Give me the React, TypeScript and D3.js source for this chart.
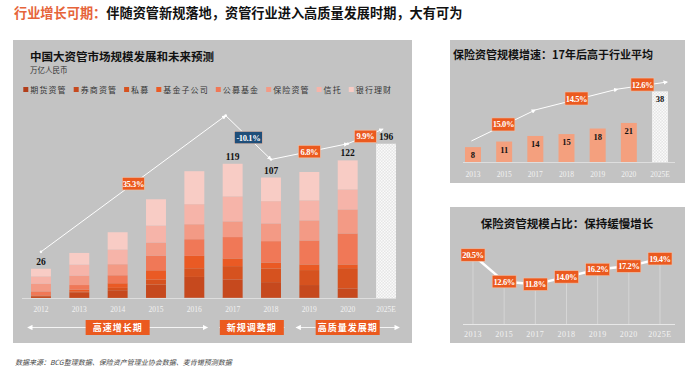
import React from 'react';
import * as d3 from 'd3';

// 中国大资管市场规模（万亿人民币）
const years = ['2012', '2013', '2014', '2015', '2016', '2017', '2018', '2019', '2020', '2025E'];
const seriesNames = ['期货资管', '券商资管', '私募', '基金子公司', '公募基金', '保险资管', '信托', '银行理财'];
const seriesColors = ['#B23E1A', '#C6491E', '#D6521F', '#EA5A24', '#F07857', '#F39A85', '#F6B4A9', '#F8CCC5'];
const futures = [0.05, 0.1, 0.1, 0.1, 0.3, 0.2, 0.2, 0.2, 0.2];
const brokers = [1.5, 5, 6.8, 11.8, 18.4, 16.3, 13.9, 11.3, 8.3];
const privateFunds = [0.6, 0.5, 2.1, 4.4, 7.7, 11.8, 12.1, 13.3, 18];
const fundSubs = [0.1, 1.8, 4.1, 8.3, 11, 6.8, 5.3, 5, 3.3];
const mutualFunds = [3.6, 4.1, 7.1, 13, 14.8, 19, 19, 21.3, 27.5];
const insurance = [6.8, 8.3, 9.8, 11.6, 13.3, 13.9, 15.7, 17.8, 21.3];
const trusts = [6.5, 9.8, 13, 15.1, 17.8, 22.2, 19.8, 17.8, 17.8];
const bankWm = [6.8, 10.4, 15.4, 23.4, 29.3, 29, 21, 25.2, 25.8];
const forecastTotal = 196;
const forecastBarCap = 137; // 2025E 柱被截断显示
const labeledYears = ['2012', '2017', '2018', '2020'];

// 增速折线（年份, 柱内位置, 数值）
const trendPoints: [string, number, number][] = [
  ['2012', 0.5, 41], ['2017', 0.15, 162], ['2018', 0.5, 123], ['2020', 0.5, 137], ['2025E', 0.35, 150],
];
const trendRates = ['35.3%', '-10.1%', '6.8%', '9.9%'];
const periods = [
  { label: '高速增长期', from: '2012', to: '2016' },
  { label: '新规调整期', from: '2017', to: '2018' },
  { label: '高质量发展期', from: '2019', to: '2025E' },
];

// 保险资管
const insYears = ['2013', '2015', '2017', '2018', '2019', '2020', '2025E'];
const insAum = [8, 11, 14, 15, 18, 21, 38];
const insTrend: [string, number, number][] = [
  ['2013', 0.4, 11.3], ['2017', 0.5, 28], ['2020', -0.2, 39.2], ['2025E', 0.95, 43],
];
const insRates = ['15.0%', '14.5%', '12.6%'];
const insShare = [20.5, 12.6, 11.8, 14.0, 16.2, 17.2, 19.4];

const ORANGE = '#EB5A1F';
const NAVY = '#1F4E79';
const PANEL = '#C3C3C3';
const CJK = '"Noto Sans CJK SC", sans-serif';
const SERIF = '"Liberation Serif", "DejaVu Serif", serif';

function RateBox({ x, y, text, fill = ORANGE, w = 22, h = 12 }: any) {
  return (
    <g>
      <rect x={x - w / 2} y={y - h / 2} width={w} height={h} fill={fill} stroke="#f0c0a8" strokeWidth={0.6} />
      <text x={x} y={y + 3} textAnchor="middle" fill="#fff" fontFamily={SERIF} fontWeight="bold" fontSize={8.5} letterSpacing={-0.4}>{text}</text>
    </g>
  );
}

export default function App() {
  // ---- main chart ----
  const x = d3.scaleBand().domain(years).range([21.8, 405.2]).paddingInner(0.48).paddingOuter(0.24);
  const y = d3.scaleLinear().domain([0, 150]).range([298, 129.1]);
  const table = years.slice(0, 9).map((yr, i) => ({
    year: yr,
    期货资管: futures[i], 券商资管: brokers[i], 私募: privateFunds[i], 基金子公司: fundSubs[i],
    公募基金: mutualFunds[i], 保险资管: insurance[i], 信托: trusts[i], 银行理财: bankWm[i],
  }));
  const stacked = d3.stack<any>().keys(seriesNames)(table);
  const totals = table.map(r => seriesNames.reduce((s, k) => s + (r as any)[k], 0));
  const tp = trendPoints.map(([yr, f, v]) => [x(yr)! + f * x.bandwidth(), y(v)] as [number, number]);
  const line = d3.line();

  // ---- insurance AUM ----
  const x2 = d3.scaleBand().domain(insYears).range([457.4, 675.6]).paddingInner(0.487).paddingOuter(0.2435);
  const y2 = d3.scaleLinear().domain([0, 40]).range([162, 87.6]);
  const tp2 = insTrend.map(([yr, f, v]) => [x2(yr)! + f * x2.bandwidth(), y2(v)] as [number, number]);

  // ---- insurance share ----
  const y3 = d3.scaleLinear().domain([0, 20.5]).range([324, 255]);
  const cx3 = (yr: string) => x2(yr)! + x2.bandwidth() / 2;
  const sharePts = insYears.map((yr, i) => [cx3(yr), y3(insShare[i])] as [number, number]);

  let lx = 23.3;
  const legendItems = seriesNames.map((n, i) => {
    const item = { n, c: seriesColors[i], x: lx };
    lx += 7 + n.length * 9.1 + 7;
    return item;
  });

  return (
    <svg width={700} height={371} style={{ position: 'absolute', left: 0, top: 0, background: '#fff' }}>
      <defs>
        <pattern id="hatch" width={3} height={3} patternUnits="userSpaceOnUse">
          <rect width={3} height={3} fill="#e6e6e6" />
          <rect width={1.5} height={1.5} fill="#fafafa" />
          <rect x={1.5} y={1.5} width={1.5} height={1.5} fill="#fafafa" />
        </pattern>
        <marker id="arr" viewBox="0 0 6 6" refX={5} refY={3} markerWidth={4.5} markerHeight={4.5} orient="auto-start-reverse">
          <path d="M0,0 L6,3 L0,6 z" fill="#fff" />
        </marker>
      </defs>

      {/* headline */}
      <text x={14} y={18} fontFamily={CJK} fontWeight="bold" fontSize={13.2}>
        <tspan fill="#E6643A">行业增长可期：</tspan>
        <tspan fill="#111">伴随资管新规落地，资管行业进入高质量发展时期，大有可为</tspan>
      </text>

      {/* ===== main panel ===== */}
      <rect x={13} y={40} width={399} height={303} fill={PANEL} />
      <text x={30} y={61} fontFamily={CJK} fontWeight="bold" fontSize={11.5} fill="#111">中国大资管市场规模发展和未来预测</text>
      <text x={30} y={73} fontFamily={CJK} fontSize={7.5} fill="#333">万亿人民币</text>
      {legendItems.map(it => (
        <g key={it.n}>
          <rect x={it.x} y={87} width={5} height={5} fill={it.c} />
          <text x={it.x + 7} y={92.5} fontFamily={CJK} fontSize={8} letterSpacing={1.1} fill="#333">{it.n}</text>
        </g>
      ))}

      {stacked.map((s, si) => (
        <g key={s.key} fill={seriesColors[si]}>
          {s.map((d, i) => (
            <rect key={i} x={x(years[i])} y={y(d[1])} width={x.bandwidth()} height={y(d[0]) - y(d[1])} />
          ))}
        </g>
      ))}
      <rect x={x('2025E')} y={y(forecastBarCap)} width={x.bandwidth()} height={y(0) - y(forecastBarCap)} fill="url(#hatch)" />
      {labeledYears.map(yr => {
        const i = years.indexOf(yr);
        return (
          <text key={yr} x={x(yr)! + x.bandwidth() / 2} y={y(totals[i]) - 4} textAnchor="middle" fontFamily={SERIF} fontWeight="bold" fontSize={9.5} fill="#111">
            {Math.round(totals[i])}
          </text>
        );
      })}
      <text x={x('2025E')! + x.bandwidth() / 2} y={y(forecastBarCap) - 4} textAnchor="middle" fontFamily={SERIF} fontWeight="bold" fontSize={9.5} fill="#111">{forecastTotal}</text>

      <line x1={22} x2={396} y1={298.5} y2={298.5} stroke="#e4e4e4" strokeWidth={0.8} />
      {years.map(yr => (
        <text key={yr} x={x(yr)! + x.bandwidth() / 2} y={312} textAnchor="middle" fontFamily={SERIF} fontSize={7.5} fill="#f2f2f2">{yr}</text>
      ))}

      {/* trend line */}
      {tp.slice(1).map((p, i) => (
        <path key={i} d={line([tp[i], p])!} stroke="#fff" strokeWidth={1} fill="none" markerEnd="url(#arr)" />
      ))}
      {tp.slice(0, 4).map((p, i) => <circle key={i} cx={p[0]} cy={p[1]} r={1.3} fill="#fff" />)}
      {trendRates.map((r, i) => {
        const mx = (tp[i][0] + tp[i + 1][0]) / 2;
        const my = (tp[i][1] + tp[i + 1][1]) / 2;
        return <RateBox key={r} x={mx} y={my} text={r} fill={r.startsWith('-') ? NAVY : ORANGE} w={r.length > 5 ? 28 : 22} h={12.5} />;
      })}

      {/* periods */}
      {periods.map(p => {
        const x1 = x(p.from)! - 3;
        const xe = x(p.to)! + x.bandwidth() + 3;
        const mid = (x1 + xe) / 2;
        return (
          <g key={p.label}>
            <line x1={x1} x2={xe} y1={327.5} y2={327.5} stroke="#f4f4f4" strokeWidth={1.2} markerStart="url(#arr)" markerEnd="url(#arr)" />
            <rect x={mid - 32} y={320} width={64} height={15} fill={ORANGE} />
            <text x={mid} y={331} textAnchor="middle" fontFamily={CJK} fontWeight="bold" fontSize={9} letterSpacing={1} fill="#fff">{p.label}</text>
          </g>
        );
      })}

      {/* ===== insurance AUM panel ===== */}
      <rect x={450} y={40} width={235} height={143} fill={PANEL} />
      <text x={453} y={59} fontFamily={CJK} fontWeight="bold" fontSize={11} fill="#111">保险资管规模增速：17年后高于行业平均</text>
      {insYears.map((yr, i) => (
        <g key={yr}>
          <rect x={x2(yr)} y={y2(insAum[i])} width={x2.bandwidth()} height={y2(0) - y2(insAum[i])} fill={yr === '2025E' ? 'url(#hatch)' : '#F4A07E'} />
          <text x={x2(yr)! + x2.bandwidth() / 2} y={y2(insAum[i]) + 11} textAnchor="middle" fontFamily={SERIF} fontWeight="bold" fontSize={8.5} fill="#111">{insAum[i]}</text>
          <text x={x2(yr)! + x2.bandwidth() / 2} y={177} textAnchor="middle" fontFamily={SERIF} fontSize={7.5} fill="#f2f2f2">{yr}</text>
        </g>
      ))}
      <line x1={463} x2={675} y1={162.5} y2={162.5} stroke="#e4e4e4" strokeWidth={0.8} />
      {tp2.slice(1).map((p, i) => (
        <path key={i} d={line([tp2[i], p])!} stroke="#fff" strokeWidth={1} fill="none" markerEnd="url(#arr)" />
      ))}
      {insRates.map((r, i) => (
        <RateBox key={r} x={(tp2[i][0] + tp2[i + 1][0]) / 2} y={(tp2[i][1] + tp2[i + 1][1]) / 2 - 1} text={r} w={23} h={13} />
      ))}

      {/* ===== insurance share panel ===== */}
      <rect x={450} y={207} width={235} height={136} fill={PANEL} />
      <text x={567} y={228} textAnchor="middle" fontFamily={CJK} fontWeight="bold" fontSize={11.5} fill="#111">保险资管规模占比：保持缓慢增长</text>
      {sharePts.map((p, i) => (
        <line key={i} x1={p[0]} x2={p[0]} y1={p[1]} y2={324} stroke="#dadada" strokeWidth={0.8} />
      ))}
      <line x1={463} x2={675} y1={324.5} y2={324.5} stroke="#e8e8e8" strokeWidth={1} />
      <path d={line(sharePts)!} stroke="#fff" strokeWidth={2.5} fill="none" />
      {sharePts.map((p, i) => (
        <RateBox key={i} x={p[0]} y={p[1]} text={insShare[i].toFixed(1) + '%'} w={24} h={12.5} />
      ))}
      {insYears.map(yr => (
        <text key={yr} x={cx3(yr)} y={337} textAnchor="middle" fontFamily={SERIF} fontSize={8} letterSpacing={0.5} fill="#f2f2f2">{yr}</text>
      ))}

      {/* source */}
      <text x={15} y={365} fontFamily={CJK} fontStyle="italic" fontSize={7} fill="#444">
        数据来源：BCG整理数据、保险资产管理业协会数据、麦肯锡预测数据
      </text>
    </svg>
  );
}
